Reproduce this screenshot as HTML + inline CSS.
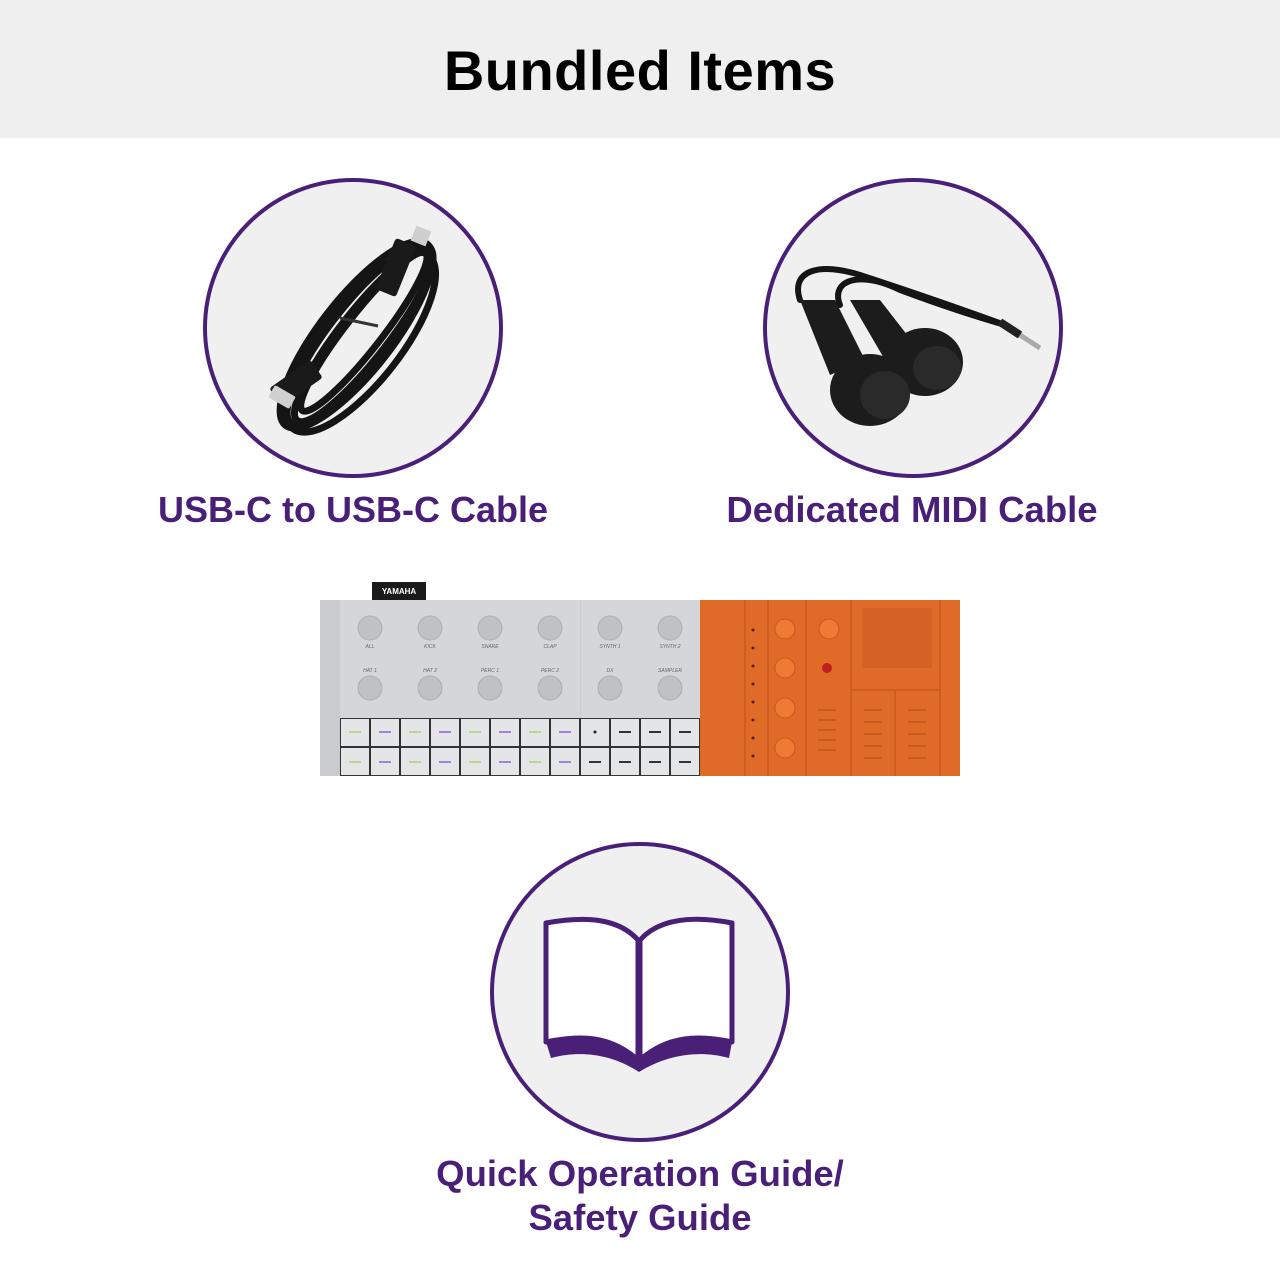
<!DOCTYPE html>
<html><head><meta charset="utf-8"><style>
html,body{margin:0;padding:0;background:#fff}
body{width:1280px;height:1280px;position:relative;overflow:hidden;font-family:"Liberation Sans",sans-serif}
.hdr{position:absolute;left:0;top:0;width:1280px;height:138px;background:#efefef}
.t{position:absolute;width:100%;text-align:center;font-weight:bold}
svg{position:absolute;left:0;top:0}
</style></head><body>
<div class="hdr"></div>
<div class="t" style="top:38px;font-size:56px;color:#000;letter-spacing:0.5px">Bundled Items</div>
<svg width="1280" height="1280" viewBox="0 0 1280 1280">
<g fill="#f0f0f0" stroke="#4a1f78" stroke-width="4">
<circle cx="353" cy="328" r="148"/>
<circle cx="913" cy="328" r="148"/>
<circle cx="640" cy="992" r="148"/>
</g>
<!-- USB cable coil -->
<g fill="none" stroke="#151515" stroke-width="7" transform="rotate(-52 360 335)">
<ellipse cx="360" cy="335" rx="112" ry="30"/>
<ellipse cx="362" cy="338" rx="108" ry="24"/>
<ellipse cx="358" cy="332" rx="115" ry="36"/>
<ellipse cx="365" cy="336" rx="100" ry="18"/>
<ellipse cx="355" cy="340" rx="110" ry="40"/>
</g>
<rect x="385" y="240" width="22" height="55" rx="3" fill="#1a1a1a" transform="rotate(22 396 267)"/>
<rect x="413" y="228" width="16" height="16" fill="#cfcfcf" transform="rotate(22 421 236)"/>
<rect x="285" y="358" width="22" height="50" rx="3" fill="#1a1a1a" transform="rotate(55 296 383)"/>
<rect x="270" y="390" width="24" height="14" rx="2" fill="#d0d0d0" transform="rotate(30 282 397)"/>
<line x1="340" y1="318" x2="378" y2="326" stroke="#333" stroke-width="3"/>
<!-- MIDI cable -->
<g fill="none" stroke="#151515" stroke-linecap="round">
<path d="M800 300 C790 270 820 262 860 275 C900 288 950 305 1005 325" stroke-width="6"/>
<path d="M840 305 C830 280 860 270 900 290 C940 305 970 315 1005 325" stroke-width="6"/>
</g>
<line x1="1000" y1="322" x2="1040" y2="348" stroke="#aaa" stroke-width="5"/>
<line x1="1000" y1="322" x2="1020" y2="335" stroke="#222" stroke-width="8"/>
<g fill="#1c1c1c">
<path d="M800 300 L835 300 L865 360 L830 375 Z"/>
<ellipse cx="870" cy="390" rx="40" ry="36"/>
<path d="M850 300 L880 300 L915 345 L885 360 Z"/>
<ellipse cx="925" cy="362" rx="38" ry="34"/>
</g>
<ellipse cx="885" cy="395" rx="25" ry="24" fill="#2a2a2a"/>
<ellipse cx="937" cy="368" rx="24" ry="22" fill="#2a2a2a"/>
<!-- book -->
<g stroke="#4a1f78" stroke-width="5" fill="#fff" stroke-linejoin="round">
<path d="M546 923 C590 915 620 920 638 940 L638 1060 C610 1035 580 1035 546 1042 Z"/>
<path d="M732 923 C690 915 658 920 640 940 L640 1060 C668 1035 700 1035 732 1042 Z"/>
</g>
<path d="M546 1042 C580 1033 612 1036 639 1060 C666 1036 700 1033 732 1042 L729 1058 C700 1050 668 1054 639 1072 C612 1054 580 1050 551 1058 Z" fill="#4a1f78"/>
<!-- device -->
<rect x="372" y="582" width="54" height="18" fill="#1a1a1a"/>
<text x="399" y="594" font-size="8" fill="#fff" text-anchor="middle" font-weight="bold" font-family="Liberation Sans">YAMAHA</text>
<rect x="320" y="600" width="380" height="176" fill="#c9cbce"/>
<rect x="340" y="600" width="240" height="118" fill="#d4d6d9"/>
<rect x="581" y="600" width="119" height="118" fill="#d4d6d9"/>
<g fill="#bfc1c4" stroke="#aeb0b3">
<circle cx="370" cy="628" r="12"/><circle cx="430" cy="628" r="12"/><circle cx="490" cy="628" r="12"/><circle cx="550" cy="628" r="12"/>
<circle cx="610" cy="628" r="12"/><circle cx="670" cy="628" r="12"/>
<circle cx="370" cy="688" r="12"/><circle cx="430" cy="688" r="12"/><circle cx="490" cy="688" r="12"/><circle cx="550" cy="688" r="12"/>
<circle cx="610" cy="688" r="12"/><circle cx="670" cy="688" r="12"/>
</g>
<g font-size="5" fill="#666" text-anchor="middle" font-family="Liberation Sans" font-style="italic">
<text x="370" y="648">ALL</text><text x="430" y="648">KICK</text><text x="490" y="648">SNARE</text><text x="550" y="648">CLAP</text><text x="610" y="648">SYNTH 1</text><text x="670" y="648">SYNTH 2</text>
<text x="370" y="672">HAT 1</text><text x="430" y="672">HAT 2</text><text x="490" y="672">PERC 1</text><text x="550" y="672">PERC 2</text><text x="610" y="672">DX</text><text x="670" y="672">SAMPLER</text>
</g>
<rect x="340" y="718" width="360" height="58" fill="#333"/>
<g fill="#e4e5e7">
<rect x="341" y="719" width="28" height="27"/><rect x="371" y="719" width="28" height="27"/><rect x="401" y="719" width="28" height="27"/><rect x="431" y="719" width="28" height="27"/><rect x="461" y="719" width="28" height="27"/><rect x="491" y="719" width="28" height="27"/><rect x="521" y="719" width="28" height="27"/><rect x="551" y="719" width="28" height="27"/><rect x="581" y="719" width="28" height="27"/><rect x="611" y="719" width="28" height="27"/><rect x="641" y="719" width="28" height="27"/><rect x="671" y="719" width="28" height="27"/>
<rect x="341" y="748" width="28" height="27"/><rect x="371" y="748" width="28" height="27"/><rect x="401" y="748" width="28" height="27"/><rect x="431" y="748" width="28" height="27"/><rect x="461" y="748" width="28" height="27"/><rect x="491" y="748" width="28" height="27"/><rect x="521" y="748" width="28" height="27"/><rect x="551" y="748" width="28" height="27"/><rect x="581" y="748" width="28" height="27"/><rect x="611" y="748" width="28" height="27"/><rect x="641" y="748" width="28" height="27"/><rect x="671" y="748" width="28" height="27"/>
</g>
<g stroke-width="2">
<line x1="349" y1="732" x2="361" y2="732" stroke="#b8d890"/><line x1="379" y1="732" x2="391" y2="732" stroke="#a080e0"/><line x1="409" y1="732" x2="421" y2="732" stroke="#b8d890"/><line x1="439" y1="732" x2="451" y2="732" stroke="#a080e0"/><line x1="469" y1="732" x2="481" y2="732" stroke="#b8d890"/><line x1="499" y1="732" x2="511" y2="732" stroke="#a080e0"/><line x1="529" y1="732" x2="541" y2="732" stroke="#b8d890"/><line x1="559" y1="732" x2="571" y2="732" stroke="#a080e0"/>
<line x1="349" y1="762" x2="361" y2="762" stroke="#b8d890"/><line x1="379" y1="762" x2="391" y2="762" stroke="#a080e0"/><line x1="409" y1="762" x2="421" y2="762" stroke="#b8d890"/><line x1="439" y1="762" x2="451" y2="762" stroke="#a080e0"/><line x1="469" y1="762" x2="481" y2="762" stroke="#b8d890"/><line x1="499" y1="762" x2="511" y2="762" stroke="#a080e0"/><line x1="529" y1="762" x2="541" y2="762" stroke="#b8d890"/><line x1="559" y1="762" x2="571" y2="762" stroke="#a080e0"/>
<line x1="619" y1="732" x2="631" y2="732" stroke="#333"/><line x1="649" y1="732" x2="661" y2="732" stroke="#333"/><line x1="679" y1="732" x2="691" y2="732" stroke="#333"/>
<line x1="589" y1="762" x2="601" y2="762" stroke="#333"/><line x1="619" y1="762" x2="631" y2="762" stroke="#333"/><line x1="649" y1="762" x2="661" y2="762" stroke="#333"/><line x1="679" y1="762" x2="691" y2="762" stroke="#333"/>
</g>
<circle cx="595" cy="732" r="1.5" fill="#222"/>
<rect x="700" y="600" width="260" height="176" fill="#e06a28"/>
<g stroke="#c85a1e" stroke-width="1.5">
<line x1="745" y1="600" x2="745" y2="776"/><line x1="768" y1="600" x2="768" y2="776"/><line x1="806" y1="600" x2="806" y2="776"/><line x1="851" y1="600" x2="851" y2="776"/><line x1="940" y1="600" x2="940" y2="776"/><line x1="851" y1="690" x2="940" y2="690"/><line x1="895" y1="690" x2="895" y2="776"/>
</g>
<g fill="#ee7a34" stroke="#c85a1e">
<circle cx="785" cy="629" r="10"/><circle cx="829" cy="629" r="10"/><circle cx="785" cy="668" r="10"/><circle cx="785" cy="708" r="10"/><circle cx="785" cy="748" r="10"/>
</g>
<circle cx="827" cy="668" r="5" fill="#c02020"/>
<rect x="862" y="608" width="70" height="60" fill="#d56224"/>
<g stroke="#b04a14" stroke-width="1">
<line x1="818" y1="710" x2="836" y2="710"/><line x1="818" y1="720" x2="836" y2="720"/><line x1="818" y1="730" x2="836" y2="730"/><line x1="818" y1="740" x2="836" y2="740"/><line x1="818" y1="750" x2="836" y2="750"/>
<line x1="864" y1="710" x2="882" y2="710"/><line x1="864" y1="722" x2="882" y2="722"/><line x1="864" y1="734" x2="882" y2="734"/><line x1="864" y1="746" x2="882" y2="746"/><line x1="864" y1="758" x2="882" y2="758"/>
<line x1="908" y1="710" x2="926" y2="710"/><line x1="908" y1="722" x2="926" y2="722"/><line x1="908" y1="734" x2="926" y2="734"/><line x1="908" y1="746" x2="926" y2="746"/><line x1="908" y1="758" x2="926" y2="758"/>
</g>
<g fill="#5a2008">
<circle cx="753" cy="630" r="1.5"/><circle cx="753" cy="648" r="1.5"/><circle cx="753" cy="666" r="1.5"/><circle cx="753" cy="684" r="1.5"/><circle cx="753" cy="702" r="1.5"/><circle cx="753" cy="720" r="1.5"/><circle cx="753" cy="738" r="1.5"/><circle cx="753" cy="756" r="1.5"/>
</g>
</svg>
<div class="t" style="left:-287px;top:489px;font-size:36px;color:#4a1f78">USB-C to USB-C Cable</div>
<div class="t" style="left:272px;top:489px;font-size:36.5px;color:#4a1f78">Dedicated MIDI Cable</div>
<div class="t" style="top:1152px;font-size:36.5px;color:#4a1f78;line-height:44px">Quick Operation Guide/<br>Safety Guide</div>
</body></html>
